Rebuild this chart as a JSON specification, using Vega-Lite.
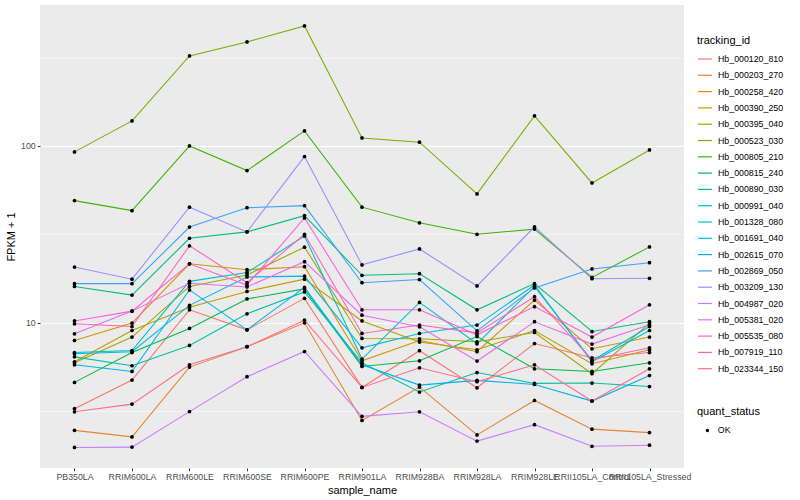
{
  "$schema": "https://vega.github.io/schema/vega-lite/v6.json",
  "width": 644,
  "height": 463,
  "autosize": {"type": "none"},
  "padding": {"left": 40, "top": 5, "right": 116, "bottom": 32},
  "background": "white",
  "config": {
    "font": "Liberation Sans",
    "view": {"fill": "#EBEBEB", "stroke": null},
    "axis": {
      "domain": false,
      "gridColor": "white",
      "labelColor": "#4D4D4D",
      "labelFontSize": 8.8,
      "tickColor": "#333333",
      "tickSize": 2.75,
      "tickWidth": 1,
      "titleColor": "black",
      "titleFontSize": 11,
      "titleFontWeight": "normal"
    },
    "legend": {
      "titleFontSize": 11,
      "titleFontWeight": "normal",
      "titleColor": "black",
      "labelFontSize": 8.8,
      "labelColor": "black"
    }
  },
  "datasets": {
    "expr": [
      {"tracking_id":"Hb_000120_810","sample_name":"PB350LA","fpkm_plus_1":3.25,"quant_status":"OK"},
      {"tracking_id":"Hb_000120_810","sample_name":"RRIM600LA","fpkm_plus_1":4.72,"quant_status":"OK"},
      {"tracking_id":"Hb_000120_810","sample_name":"RRIM600LE","fpkm_plus_1":11.8,"quant_status":"OK"},
      {"tracking_id":"Hb_000120_810","sample_name":"RRIM600SE","fpkm_plus_1":9.09,"quant_status":"OK"},
      {"tracking_id":"Hb_000120_810","sample_name":"RRIM600PE","fpkm_plus_1":13.7,"quant_status":"OK"},
      {"tracking_id":"Hb_000120_810","sample_name":"RRIM901LA","fpkm_plus_1":4.29,"quant_status":"OK"},
      {"tracking_id":"Hb_000120_810","sample_name":"RRIM928BA","fpkm_plus_1":6.92,"quant_status":"OK"},
      {"tracking_id":"Hb_000120_810","sample_name":"RRIM928LA","fpkm_plus_1":4.27,"quant_status":"OK"},
      {"tracking_id":"Hb_000120_810","sample_name":"RRIM928LE","fpkm_plus_1":7.6,"quant_status":"OK"},
      {"tracking_id":"Hb_000120_810","sample_name":"RRII105LA_Control","fpkm_plus_1":6.31,"quant_status":"OK"},
      {"tracking_id":"Hb_000120_810","sample_name":"RRII105LA_Stressed","fpkm_plus_1":6.76,"quant_status":"OK"},

      {"tracking_id":"Hb_000203_270","sample_name":"PB350LA","fpkm_plus_1":2.45,"quant_status":"OK"},
      {"tracking_id":"Hb_000203_270","sample_name":"RRIM600LA","fpkm_plus_1":2.25,"quant_status":"OK"},
      {"tracking_id":"Hb_000203_270","sample_name":"RRIM600LE","fpkm_plus_1":5.59,"quant_status":"OK"},
      {"tracking_id":"Hb_000203_270","sample_name":"RRIM600SE","fpkm_plus_1":7.29,"quant_status":"OK"},
      {"tracking_id":"Hb_000203_270","sample_name":"RRIM600PE","fpkm_plus_1":9.96,"quant_status":"OK"},
      {"tracking_id":"Hb_000203_270","sample_name":"RRIM901LA","fpkm_plus_1":2.79,"quant_status":"OK"},
      {"tracking_id":"Hb_000203_270","sample_name":"RRIM928BA","fpkm_plus_1":4.31,"quant_status":"OK"},
      {"tracking_id":"Hb_000203_270","sample_name":"RRIM928LA","fpkm_plus_1":2.31,"quant_status":"OK"},
      {"tracking_id":"Hb_000203_270","sample_name":"RRIM928LE","fpkm_plus_1":3.62,"quant_status":"OK"},
      {"tracking_id":"Hb_000203_270","sample_name":"RRII105LA_Control","fpkm_plus_1":2.49,"quant_status":"OK"},
      {"tracking_id":"Hb_000203_270","sample_name":"RRII105LA_Stressed","fpkm_plus_1":2.38,"quant_status":"OK"},

      {"tracking_id":"Hb_000258_420","sample_name":"PB350LA","fpkm_plus_1":7.91,"quant_status":"OK"},
      {"tracking_id":"Hb_000258_420","sample_name":"RRIM600LA","fpkm_plus_1":9.92,"quant_status":"OK"},
      {"tracking_id":"Hb_000258_420","sample_name":"RRIM600LE","fpkm_plus_1":21.5,"quant_status":"OK"},
      {"tracking_id":"Hb_000258_420","sample_name":"RRIM600SE","fpkm_plus_1":19.9,"quant_status":"OK"},
      {"tracking_id":"Hb_000258_420","sample_name":"RRIM600PE","fpkm_plus_1":20.7,"quant_status":"OK"},
      {"tracking_id":"Hb_000258_420","sample_name":"RRIM901LA","fpkm_plus_1":6.07,"quant_status":"OK"},
      {"tracking_id":"Hb_000258_420","sample_name":"RRIM928BA","fpkm_plus_1":7.91,"quant_status":"OK"},
      {"tracking_id":"Hb_000258_420","sample_name":"RRIM928LA","fpkm_plus_1":6.83,"quant_status":"OK"},
      {"tracking_id":"Hb_000258_420","sample_name":"RRIM928LE","fpkm_plus_1":13.4,"quant_status":"OK"},
      {"tracking_id":"Hb_000258_420","sample_name":"RRII105LA_Control","fpkm_plus_1":7.1,"quant_status":"OK"},
      {"tracking_id":"Hb_000258_420","sample_name":"RRII105LA_Stressed","fpkm_plus_1":8.27,"quant_status":"OK"},

      {"tracking_id":"Hb_000390_250","sample_name":"PB350LA","fpkm_plus_1":5.99,"quant_status":"OK"},
      {"tracking_id":"Hb_000390_250","sample_name":"RRIM600LA","fpkm_plus_1":9.01,"quant_status":"OK"},
      {"tracking_id":"Hb_000390_250","sample_name":"RRIM600LE","fpkm_plus_1":12.2,"quant_status":"OK"},
      {"tracking_id":"Hb_000390_250","sample_name":"RRIM600SE","fpkm_plus_1":15.0,"quant_status":"OK"},
      {"tracking_id":"Hb_000390_250","sample_name":"RRIM600PE","fpkm_plus_1":17.6,"quant_status":"OK"},
      {"tracking_id":"Hb_000390_250","sample_name":"RRIM901LA","fpkm_plus_1":10.2,"quant_status":"OK"},
      {"tracking_id":"Hb_000390_250","sample_name":"RRIM928BA","fpkm_plus_1":7.75,"quant_status":"OK"},
      {"tracking_id":"Hb_000390_250","sample_name":"RRIM928LA","fpkm_plus_1":7.01,"quant_status":"OK"},
      {"tracking_id":"Hb_000390_250","sample_name":"RRIM928LE","fpkm_plus_1":9.01,"quant_status":"OK"},
      {"tracking_id":"Hb_000390_250","sample_name":"RRII105LA_Control","fpkm_plus_1":5.84,"quant_status":"OK"},
      {"tracking_id":"Hb_000390_250","sample_name":"RRII105LA_Stressed","fpkm_plus_1":7.01,"quant_status":"OK"},

      {"tracking_id":"Hb_000395_040","sample_name":"PB350LA","fpkm_plus_1":5.91,"quant_status":"OK"},
      {"tracking_id":"Hb_000395_040","sample_name":"RRIM600LA","fpkm_plus_1":8.27,"quant_status":"OK"},
      {"tracking_id":"Hb_000395_040","sample_name":"RRIM600LE","fpkm_plus_1":16.0,"quant_status":"OK"},
      {"tracking_id":"Hb_000395_040","sample_name":"RRIM600SE","fpkm_plus_1":18.6,"quant_status":"OK"},
      {"tracking_id":"Hb_000395_040","sample_name":"RRIM600PE","fpkm_plus_1":26.7,"quant_status":"OK"},
      {"tracking_id":"Hb_000395_040","sample_name":"RRIM901LA","fpkm_plus_1":8.12,"quant_status":"OK"},
      {"tracking_id":"Hb_000395_040","sample_name":"RRIM928BA","fpkm_plus_1":8.09,"quant_status":"OK"},
      {"tracking_id":"Hb_000395_040","sample_name":"RRIM928LA","fpkm_plus_1":7.78,"quant_status":"OK"},
      {"tracking_id":"Hb_000395_040","sample_name":"RRIM928LE","fpkm_plus_1":8.78,"quant_status":"OK"},
      {"tracking_id":"Hb_000395_040","sample_name":"RRII105LA_Control","fpkm_plus_1":5.13,"quant_status":"OK"},
      {"tracking_id":"Hb_000395_040","sample_name":"RRII105LA_Stressed","fpkm_plus_1":9.92,"quant_status":"OK"},

      {"tracking_id":"Hb_000523_030","sample_name":"PB350LA","fpkm_plus_1":92.5,"quant_status":"OK"},
      {"tracking_id":"Hb_000523_030","sample_name":"RRIM600LA","fpkm_plus_1":138.5,"quant_status":"OK"},
      {"tracking_id":"Hb_000523_030","sample_name":"RRIM600LE","fpkm_plus_1":323,"quant_status":"OK"},
      {"tracking_id":"Hb_000523_030","sample_name":"RRIM600SE","fpkm_plus_1":388,"quant_status":"OK"},
      {"tracking_id":"Hb_000523_030","sample_name":"RRIM600PE","fpkm_plus_1":478,"quant_status":"OK"},
      {"tracking_id":"Hb_000523_030","sample_name":"RRIM901LA","fpkm_plus_1":111,"quant_status":"OK"},
      {"tracking_id":"Hb_000523_030","sample_name":"RRIM928BA","fpkm_plus_1":105,"quant_status":"OK"},
      {"tracking_id":"Hb_000523_030","sample_name":"RRIM928LA","fpkm_plus_1":53.5,"quant_status":"OK"},
      {"tracking_id":"Hb_000523_030","sample_name":"RRIM928LE","fpkm_plus_1":148,"quant_status":"OK"},
      {"tracking_id":"Hb_000523_030","sample_name":"RRII105LA_Control","fpkm_plus_1":61.7,"quant_status":"OK"},
      {"tracking_id":"Hb_000523_030","sample_name":"RRII105LA_Stressed","fpkm_plus_1":94.9,"quant_status":"OK"},

      {"tracking_id":"Hb_000805_210","sample_name":"PB350LA","fpkm_plus_1":49.0,"quant_status":"OK"},
      {"tracking_id":"Hb_000805_210","sample_name":"RRIM600LA","fpkm_plus_1":43.0,"quant_status":"OK"},
      {"tracking_id":"Hb_000805_210","sample_name":"RRIM600LE","fpkm_plus_1":100,"quant_status":"OK"},
      {"tracking_id":"Hb_000805_210","sample_name":"RRIM600SE","fpkm_plus_1":72.5,"quant_status":"OK"},
      {"tracking_id":"Hb_000805_210","sample_name":"RRIM600PE","fpkm_plus_1":121.6,"quant_status":"OK"},
      {"tracking_id":"Hb_000805_210","sample_name":"RRIM901LA","fpkm_plus_1":45.0,"quant_status":"OK"},
      {"tracking_id":"Hb_000805_210","sample_name":"RRIM928BA","fpkm_plus_1":36.7,"quant_status":"OK"},
      {"tracking_id":"Hb_000805_210","sample_name":"RRIM928LA","fpkm_plus_1":31.6,"quant_status":"OK"},
      {"tracking_id":"Hb_000805_210","sample_name":"RRIM928LE","fpkm_plus_1":33.8,"quant_status":"OK"},
      {"tracking_id":"Hb_000805_210","sample_name":"RRII105LA_Control","fpkm_plus_1":18.0,"quant_status":"OK"},
      {"tracking_id":"Hb_000805_210","sample_name":"RRII105LA_Stressed","fpkm_plus_1":26.8,"quant_status":"OK"},

      {"tracking_id":"Hb_000815_240","sample_name":"PB350LA","fpkm_plus_1":4.58,"quant_status":"OK"},
      {"tracking_id":"Hb_000815_240","sample_name":"RRIM600LA","fpkm_plus_1":6.76,"quant_status":"OK"},
      {"tracking_id":"Hb_000815_240","sample_name":"RRIM600LE","fpkm_plus_1":9.25,"quant_status":"OK"},
      {"tracking_id":"Hb_000815_240","sample_name":"RRIM600SE","fpkm_plus_1":13.6,"quant_status":"OK"},
      {"tracking_id":"Hb_000815_240","sample_name":"RRIM600PE","fpkm_plus_1":15.5,"quant_status":"OK"},
      {"tracking_id":"Hb_000815_240","sample_name":"RRIM901LA","fpkm_plus_1":5.64,"quant_status":"OK"},
      {"tracking_id":"Hb_000815_240","sample_name":"RRIM928BA","fpkm_plus_1":6.07,"quant_status":"OK"},
      {"tracking_id":"Hb_000815_240","sample_name":"RRIM928LA","fpkm_plus_1":8.33,"quant_status":"OK"},
      {"tracking_id":"Hb_000815_240","sample_name":"RRIM928LE","fpkm_plus_1":5.47,"quant_status":"OK"},
      {"tracking_id":"Hb_000815_240","sample_name":"RRII105LA_Control","fpkm_plus_1":5.28,"quant_status":"OK"},
      {"tracking_id":"Hb_000815_240","sample_name":"RRII105LA_Stressed","fpkm_plus_1":5.91,"quant_status":"OK"},

      {"tracking_id":"Hb_000890_030","sample_name":"PB350LA","fpkm_plus_1":16.0,"quant_status":"OK"},
      {"tracking_id":"Hb_000890_030","sample_name":"RRIM600LA","fpkm_plus_1":14.3,"quant_status":"OK"},
      {"tracking_id":"Hb_000890_030","sample_name":"RRIM600LE","fpkm_plus_1":30.0,"quant_status":"OK"},
      {"tracking_id":"Hb_000890_030","sample_name":"RRIM600SE","fpkm_plus_1":32.6,"quant_status":"OK"},
      {"tracking_id":"Hb_000890_030","sample_name":"RRIM600PE","fpkm_plus_1":40.3,"quant_status":"OK"},
      {"tracking_id":"Hb_000890_030","sample_name":"RRIM901LA","fpkm_plus_1":18.5,"quant_status":"OK"},
      {"tracking_id":"Hb_000890_030","sample_name":"RRIM928BA","fpkm_plus_1":18.9,"quant_status":"OK"},
      {"tracking_id":"Hb_000890_030","sample_name":"RRIM928LA","fpkm_plus_1":11.8,"quant_status":"OK"},
      {"tracking_id":"Hb_000890_030","sample_name":"RRIM928LE","fpkm_plus_1":16.6,"quant_status":"OK"},
      {"tracking_id":"Hb_000890_030","sample_name":"RRII105LA_Control","fpkm_plus_1":8.89,"quant_status":"OK"},
      {"tracking_id":"Hb_000890_030","sample_name":"RRII105LA_Stressed","fpkm_plus_1":10.1,"quant_status":"OK"},

      {"tracking_id":"Hb_000991_040","sample_name":"PB350LA","fpkm_plus_1":6.39,"quant_status":"OK"},
      {"tracking_id":"Hb_000991_040","sample_name":"RRIM600LA","fpkm_plus_1":5.69,"quant_status":"OK"},
      {"tracking_id":"Hb_000991_040","sample_name":"RRIM600LE","fpkm_plus_1":7.41,"quant_status":"OK"},
      {"tracking_id":"Hb_000991_040","sample_name":"RRIM600SE","fpkm_plus_1":11.2,"quant_status":"OK"},
      {"tracking_id":"Hb_000991_040","sample_name":"RRIM600PE","fpkm_plus_1":14.9,"quant_status":"OK"},
      {"tracking_id":"Hb_000991_040","sample_name":"RRIM901LA","fpkm_plus_1":5.91,"quant_status":"OK"},
      {"tracking_id":"Hb_000991_040","sample_name":"RRIM928BA","fpkm_plus_1":4.04,"quant_status":"OK"},
      {"tracking_id":"Hb_000991_040","sample_name":"RRIM928LA","fpkm_plus_1":5.21,"quant_status":"OK"},
      {"tracking_id":"Hb_000991_040","sample_name":"RRIM928LE","fpkm_plus_1":4.52,"quant_status":"OK"},
      {"tracking_id":"Hb_000991_040","sample_name":"RRII105LA_Control","fpkm_plus_1":4.54,"quant_status":"OK"},
      {"tracking_id":"Hb_000991_040","sample_name":"RRII105LA_Stressed","fpkm_plus_1":4.34,"quant_status":"OK"},

      {"tracking_id":"Hb_001328_080","sample_name":"PB350LA","fpkm_plus_1":6.76,"quant_status":"OK"},
      {"tracking_id":"Hb_001328_080","sample_name":"RRIM600LA","fpkm_plus_1":6.94,"quant_status":"OK"},
      {"tracking_id":"Hb_001328_080","sample_name":"RRIM600LE","fpkm_plus_1":17.1,"quant_status":"OK"},
      {"tracking_id":"Hb_001328_080","sample_name":"RRIM600SE","fpkm_plus_1":19.2,"quant_status":"OK"},
      {"tracking_id":"Hb_001328_080","sample_name":"RRIM600PE","fpkm_plus_1":30.9,"quant_status":"OK"},
      {"tracking_id":"Hb_001328_080","sample_name":"RRIM901LA","fpkm_plus_1":6.21,"quant_status":"OK"},
      {"tracking_id":"Hb_001328_080","sample_name":"RRIM928BA","fpkm_plus_1":13.0,"quant_status":"OK"},
      {"tracking_id":"Hb_001328_080","sample_name":"RRIM928LA","fpkm_plus_1":7.58,"quant_status":"OK"},
      {"tracking_id":"Hb_001328_080","sample_name":"RRIM928LE","fpkm_plus_1":16.0,"quant_status":"OK"},
      {"tracking_id":"Hb_001328_080","sample_name":"RRII105LA_Control","fpkm_plus_1":6.07,"quant_status":"OK"},
      {"tracking_id":"Hb_001328_080","sample_name":"RRII105LA_Stressed","fpkm_plus_1":9.49,"quant_status":"OK"},

      {"tracking_id":"Hb_001691_040","sample_name":"PB350LA","fpkm_plus_1":6.65,"quant_status":"OK"},
      {"tracking_id":"Hb_001691_040","sample_name":"RRIM600LA","fpkm_plus_1":6.83,"quant_status":"OK"},
      {"tracking_id":"Hb_001691_040","sample_name":"RRIM600LE","fpkm_plus_1":12.5,"quant_status":"OK"},
      {"tracking_id":"Hb_001691_040","sample_name":"RRIM600SE","fpkm_plus_1":18.1,"quant_status":"OK"},
      {"tracking_id":"Hb_001691_040","sample_name":"RRIM600PE","fpkm_plus_1":18.3,"quant_status":"OK"},
      {"tracking_id":"Hb_001691_040","sample_name":"RRIM901LA","fpkm_plus_1":7.19,"quant_status":"OK"},
      {"tracking_id":"Hb_001691_040","sample_name":"RRIM928BA","fpkm_plus_1":8.67,"quant_status":"OK"},
      {"tracking_id":"Hb_001691_040","sample_name":"RRIM928LA","fpkm_plus_1":9.67,"quant_status":"OK"},
      {"tracking_id":"Hb_001691_040","sample_name":"RRIM928LE","fpkm_plus_1":16.3,"quant_status":"OK"},
      {"tracking_id":"Hb_001691_040","sample_name":"RRII105LA_Control","fpkm_plus_1":5.99,"quant_status":"OK"},
      {"tracking_id":"Hb_001691_040","sample_name":"RRII105LA_Stressed","fpkm_plus_1":9.01,"quant_status":"OK"},

      {"tracking_id":"Hb_002615_070","sample_name":"PB350LA","fpkm_plus_1":5.76,"quant_status":"OK"},
      {"tracking_id":"Hb_002615_070","sample_name":"RRIM600LA","fpkm_plus_1":5.28,"quant_status":"OK"},
      {"tracking_id":"Hb_002615_070","sample_name":"RRIM600LE","fpkm_plus_1":15.3,"quant_status":"OK"},
      {"tracking_id":"Hb_002615_070","sample_name":"RRIM600SE","fpkm_plus_1":9.09,"quant_status":"OK"},
      {"tracking_id":"Hb_002615_070","sample_name":"RRIM600PE","fpkm_plus_1":15.8,"quant_status":"OK"},
      {"tracking_id":"Hb_002615_070","sample_name":"RRIM901LA","fpkm_plus_1":5.76,"quant_status":"OK"},
      {"tracking_id":"Hb_002615_070","sample_name":"RRIM928BA","fpkm_plus_1":4.42,"quant_status":"OK"},
      {"tracking_id":"Hb_002615_070","sample_name":"RRIM928LA","fpkm_plus_1":4.7,"quant_status":"OK"},
      {"tracking_id":"Hb_002615_070","sample_name":"RRIM928LE","fpkm_plus_1":4.46,"quant_status":"OK"},
      {"tracking_id":"Hb_002615_070","sample_name":"RRII105LA_Control","fpkm_plus_1":3.59,"quant_status":"OK"},
      {"tracking_id":"Hb_002615_070","sample_name":"RRII105LA_Stressed","fpkm_plus_1":5.01,"quant_status":"OK"},

      {"tracking_id":"Hb_002869_050","sample_name":"PB350LA","fpkm_plus_1":16.6,"quant_status":"OK"},
      {"tracking_id":"Hb_002869_050","sample_name":"RRIM600LA","fpkm_plus_1":16.6,"quant_status":"OK"},
      {"tracking_id":"Hb_002869_050","sample_name":"RRIM600LE","fpkm_plus_1":34.7,"quant_status":"OK"},
      {"tracking_id":"Hb_002869_050","sample_name":"RRIM600SE","fpkm_plus_1":44.7,"quant_status":"OK"},
      {"tracking_id":"Hb_002869_050","sample_name":"RRIM600PE","fpkm_plus_1":45.9,"quant_status":"OK"},
      {"tracking_id":"Hb_002869_050","sample_name":"RRIM901LA","fpkm_plus_1":16.8,"quant_status":"OK"},
      {"tracking_id":"Hb_002869_050","sample_name":"RRIM928BA","fpkm_plus_1":17.5,"quant_status":"OK"},
      {"tracking_id":"Hb_002869_050","sample_name":"RRIM928LA","fpkm_plus_1":8.97,"quant_status":"OK"},
      {"tracking_id":"Hb_002869_050","sample_name":"RRIM928LE","fpkm_plus_1":15.7,"quant_status":"OK"},
      {"tracking_id":"Hb_002869_050","sample_name":"RRII105LA_Control","fpkm_plus_1":20.1,"quant_status":"OK"},
      {"tracking_id":"Hb_002869_050","sample_name":"RRII105LA_Stressed","fpkm_plus_1":21.8,"quant_status":"OK"},

      {"tracking_id":"Hb_003209_130","sample_name":"PB350LA","fpkm_plus_1":20.6,"quant_status":"OK"},
      {"tracking_id":"Hb_003209_130","sample_name":"RRIM600LA","fpkm_plus_1":17.6,"quant_status":"OK"},
      {"tracking_id":"Hb_003209_130","sample_name":"RRIM600LE","fpkm_plus_1":45.0,"quant_status":"OK"},
      {"tracking_id":"Hb_003209_130","sample_name":"RRIM600SE","fpkm_plus_1":32.6,"quant_status":"OK"},
      {"tracking_id":"Hb_003209_130","sample_name":"RRIM600PE","fpkm_plus_1":87.0,"quant_status":"OK"},
      {"tracking_id":"Hb_003209_130","sample_name":"RRIM901LA","fpkm_plus_1":21.2,"quant_status":"OK"},
      {"tracking_id":"Hb_003209_130","sample_name":"RRIM928BA","fpkm_plus_1":26.1,"quant_status":"OK"},
      {"tracking_id":"Hb_003209_130","sample_name":"RRIM928LA","fpkm_plus_1":16.1,"quant_status":"OK"},
      {"tracking_id":"Hb_003209_130","sample_name":"RRIM928LE","fpkm_plus_1":34.8,"quant_status":"OK"},
      {"tracking_id":"Hb_003209_130","sample_name":"RRII105LA_Control","fpkm_plus_1":17.7,"quant_status":"OK"},
      {"tracking_id":"Hb_003209_130","sample_name":"RRII105LA_Stressed","fpkm_plus_1":17.8,"quant_status":"OK"},

      {"tracking_id":"Hb_004987_020","sample_name":"PB350LA","fpkm_plus_1":1.96,"quant_status":"OK"},
      {"tracking_id":"Hb_004987_020","sample_name":"RRIM600LA","fpkm_plus_1":1.97,"quant_status":"OK"},
      {"tracking_id":"Hb_004987_020","sample_name":"RRIM600LE","fpkm_plus_1":3.13,"quant_status":"OK"},
      {"tracking_id":"Hb_004987_020","sample_name":"RRIM600SE","fpkm_plus_1":4.93,"quant_status":"OK"},
      {"tracking_id":"Hb_004987_020","sample_name":"RRIM600PE","fpkm_plus_1":6.85,"quant_status":"OK"},
      {"tracking_id":"Hb_004987_020","sample_name":"RRIM901LA","fpkm_plus_1":2.94,"quant_status":"OK"},
      {"tracking_id":"Hb_004987_020","sample_name":"RRIM928BA","fpkm_plus_1":3.12,"quant_status":"OK"},
      {"tracking_id":"Hb_004987_020","sample_name":"RRIM928LA","fpkm_plus_1":2.13,"quant_status":"OK"},
      {"tracking_id":"Hb_004987_020","sample_name":"RRIM928LE","fpkm_plus_1":2.64,"quant_status":"OK"},
      {"tracking_id":"Hb_004987_020","sample_name":"RRII105LA_Control","fpkm_plus_1":1.99,"quant_status":"OK"},
      {"tracking_id":"Hb_004987_020","sample_name":"RRII105LA_Stressed","fpkm_plus_1":2.02,"quant_status":"OK"},

      {"tracking_id":"Hb_005381_020","sample_name":"PB350LA","fpkm_plus_1":8.63,"quant_status":"OK"},
      {"tracking_id":"Hb_005381_020","sample_name":"RRIM600LA","fpkm_plus_1":11.6,"quant_status":"OK"},
      {"tracking_id":"Hb_005381_020","sample_name":"RRIM600LE","fpkm_plus_1":16.7,"quant_status":"OK"},
      {"tracking_id":"Hb_005381_020","sample_name":"RRIM600SE","fpkm_plus_1":15.9,"quant_status":"OK"},
      {"tracking_id":"Hb_005381_020","sample_name":"RRIM600PE","fpkm_plus_1":22.1,"quant_status":"OK"},
      {"tracking_id":"Hb_005381_020","sample_name":"RRIM901LA","fpkm_plus_1":11.0,"quant_status":"OK"},
      {"tracking_id":"Hb_005381_020","sample_name":"RRIM928BA","fpkm_plus_1":9.46,"quant_status":"OK"},
      {"tracking_id":"Hb_005381_020","sample_name":"RRIM928LA","fpkm_plus_1":6.05,"quant_status":"OK"},
      {"tracking_id":"Hb_005381_020","sample_name":"RRIM928LE","fpkm_plus_1":10.1,"quant_status":"OK"},
      {"tracking_id":"Hb_005381_020","sample_name":"RRII105LA_Control","fpkm_plus_1":7.55,"quant_status":"OK"},
      {"tracking_id":"Hb_005381_020","sample_name":"RRII105LA_Stressed","fpkm_plus_1":9.7,"quant_status":"OK"},

      {"tracking_id":"Hb_005535_080","sample_name":"PB350LA","fpkm_plus_1":10.2,"quant_status":"OK"},
      {"tracking_id":"Hb_005535_080","sample_name":"RRIM600LA","fpkm_plus_1":11.6,"quant_status":"OK"},
      {"tracking_id":"Hb_005535_080","sample_name":"RRIM600LE","fpkm_plus_1":21.5,"quant_status":"OK"},
      {"tracking_id":"Hb_005535_080","sample_name":"RRIM600SE","fpkm_plus_1":16.3,"quant_status":"OK"},
      {"tracking_id":"Hb_005535_080","sample_name":"RRIM600PE","fpkm_plus_1":39.1,"quant_status":"OK"},
      {"tracking_id":"Hb_005535_080","sample_name":"RRIM901LA","fpkm_plus_1":11.8,"quant_status":"OK"},
      {"tracking_id":"Hb_005535_080","sample_name":"RRIM928BA","fpkm_plus_1":11.8,"quant_status":"OK"},
      {"tracking_id":"Hb_005535_080","sample_name":"RRIM928LA","fpkm_plus_1":8.52,"quant_status":"OK"},
      {"tracking_id":"Hb_005535_080","sample_name":"RRIM928LE","fpkm_plus_1":12.3,"quant_status":"OK"},
      {"tracking_id":"Hb_005535_080","sample_name":"RRII105LA_Control","fpkm_plus_1":8.27,"quant_status":"OK"},
      {"tracking_id":"Hb_005535_080","sample_name":"RRII105LA_Stressed","fpkm_plus_1":12.6,"quant_status":"OK"},

      {"tracking_id":"Hb_007919_110","sample_name":"PB350LA","fpkm_plus_1":9.83,"quant_status":"OK"},
      {"tracking_id":"Hb_007919_110","sample_name":"RRIM600LA","fpkm_plus_1":9.49,"quant_status":"OK"},
      {"tracking_id":"Hb_007919_110","sample_name":"RRIM600LE","fpkm_plus_1":27.2,"quant_status":"OK"},
      {"tracking_id":"Hb_007919_110","sample_name":"RRIM600SE","fpkm_plus_1":16.8,"quant_status":"OK"},
      {"tracking_id":"Hb_007919_110","sample_name":"RRIM600PE","fpkm_plus_1":31.6,"quant_status":"OK"},
      {"tracking_id":"Hb_007919_110","sample_name":"RRIM901LA","fpkm_plus_1":8.67,"quant_status":"OK"},
      {"tracking_id":"Hb_007919_110","sample_name":"RRIM928BA","fpkm_plus_1":9.67,"quant_status":"OK"},
      {"tracking_id":"Hb_007919_110","sample_name":"RRIM928LA","fpkm_plus_1":8.74,"quant_status":"OK"},
      {"tracking_id":"Hb_007919_110","sample_name":"RRIM928LE","fpkm_plus_1":14.0,"quant_status":"OK"},
      {"tracking_id":"Hb_007919_110","sample_name":"RRII105LA_Control","fpkm_plus_1":6.15,"quant_status":"OK"},
      {"tracking_id":"Hb_007919_110","sample_name":"RRII105LA_Stressed","fpkm_plus_1":7.19,"quant_status":"OK"},

      {"tracking_id":"Hb_023344_150","sample_name":"PB350LA","fpkm_plus_1":3.12,"quant_status":"OK"},
      {"tracking_id":"Hb_023344_150","sample_name":"RRIM600LA","fpkm_plus_1":3.45,"quant_status":"OK"},
      {"tracking_id":"Hb_023344_150","sample_name":"RRIM600LE","fpkm_plus_1":5.76,"quant_status":"OK"},
      {"tracking_id":"Hb_023344_150","sample_name":"RRIM600SE","fpkm_plus_1":7.29,"quant_status":"OK"},
      {"tracking_id":"Hb_023344_150","sample_name":"RRIM600PE","fpkm_plus_1":10.3,"quant_status":"OK"},
      {"tracking_id":"Hb_023344_150","sample_name":"RRIM901LA","fpkm_plus_1":4.29,"quant_status":"OK"},
      {"tracking_id":"Hb_023344_150","sample_name":"RRIM928BA","fpkm_plus_1":5.54,"quant_status":"OK"},
      {"tracking_id":"Hb_023344_150","sample_name":"RRIM928LA","fpkm_plus_1":4.62,"quant_status":"OK"},
      {"tracking_id":"Hb_023344_150","sample_name":"RRIM928LE","fpkm_plus_1":5.76,"quant_status":"OK"},
      {"tracking_id":"Hb_023344_150","sample_name":"RRII105LA_Control","fpkm_plus_1":3.59,"quant_status":"OK"},
      {"tracking_id":"Hb_023344_150","sample_name":"RRII105LA_Stressed","fpkm_plus_1":5.47,"quant_status":"OK"}
    ]
  },
  "data": {"name": "expr"},
  "encoding": {
    "x": {
      "field": "sample_name",
      "type": "nominal",
      "sort": ["PB350LA","RRIM600LA","RRIM600LE","RRIM600SE","RRIM600PE","RRIM901LA","RRIM928BA","RRIM928LA","RRIM928LE","RRII105LA_Control","RRII105LA_Stressed"],
      "scale": {"type": "point", "padding": 0.6},
      "axis": {
        "title": "sample_name",
        "labelAngle": 0,
        "labelOverlap": false,
        "labelBound": false,
        "labelPadding": 2,
        "titlePadding": 3,
        "gridWidth": 1.07
      }
    },
    "y": {
      "field": "fpkm_plus_1",
      "type": "quantitative",
      "scale": {"type": "log", "domain": [1.5, 628], "nice": false, "zero": false},
      "axis": {
        "title": "FPKM + 1",
        "values": [3.1623, 10, 31.623, 100, 316.23],
        "labelExpr": "datum.value == 10 ? '10' : (datum.value == 100 ? '100' : '')",
        "gridWidth": {"condition": {"test": "datum.value == 10 || datum.value == 100", "value": 1.07}, "value": 0.53},
        "tickOpacity": {"condition": {"test": "datum.value == 10 || datum.value == 100", "value": 1}, "value": 0},
        "labelPadding": 2,
        "titlePadding": 4
      }
    }
  },
  "layer": [
    {
      "mark": {"type": "line", "strokeWidth": 1.07},
      "encoding": {
        "color": {
          "field": "tracking_id",
          "type": "nominal",
          "title": "tracking_id",
          "scale": {
            "domain": ["Hb_000120_810","Hb_000203_270","Hb_000258_420","Hb_000390_250","Hb_000395_040","Hb_000523_030","Hb_000805_210","Hb_000815_240","Hb_000890_030","Hb_000991_040","Hb_001328_080","Hb_001691_040","Hb_002615_070","Hb_002869_050","Hb_003209_130","Hb_004987_020","Hb_005381_020","Hb_005535_080","Hb_007919_110","Hb_023344_150"],
            "range": ["#F8766D","#EA8331","#D89000","#C09B00","#A3A500","#7CAE00","#39B600","#00BB4E","#00BF7D","#00C1A3","#00BFC4","#00BAE0","#00B0F6","#35A2FF","#9590FF","#C77CFF","#E76BF3","#FA62DB","#FF62BC","#FF6C91"]
          },
          "legend": {
            "orient": "none",
            "legendX": 657,
            "legendY": 30,
            "symbolType": "stroke",
            "symbolSize": 196,
            "symbolStrokeWidth": 1.2,
            "rowPadding": 3.3,
            "labelOffset": 5,
            "titlePadding": 5
          }
        }
      }
    },
    {
      "mark": {"type": "point", "filled": true, "color": "black", "opacity": 1, "size": 14},
      "encoding": {
        "shape": {
          "field": "quant_status",
          "type": "nominal",
          "title": "quant_status",
          "scale": {"range": ["circle"]},
          "legend": {
            "orient": "none",
            "legendX": 657,
            "legendY": 401,
            "symbolSize": 12,
            "symbolFillColor": "black",
            "symbolStrokeColor": "black",
            "symbolOffset": 6,
            "labelOffset": 6,
            "titlePadding": 9
          }
        }
      }
    }
  ]
}
